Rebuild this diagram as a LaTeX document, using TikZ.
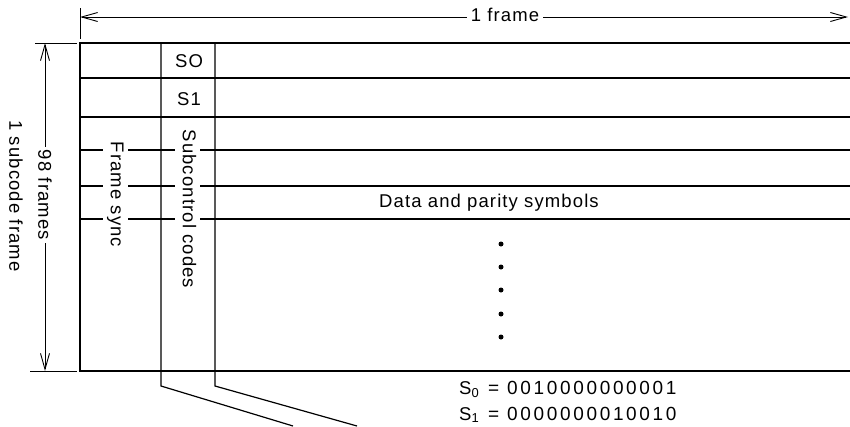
\documentclass[tikz,border=0pt]{standalone}
\usepackage{fontspec}
\setmainfont{Liberation Sans}[LetterSpace=6]
\newfontfamily\codefont{Liberation Sans}[LetterSpace=14]
\usetikzlibrary{arrows.meta}

\begin{document}
\begin{tikzpicture}[
            x=1pt, y=-1pt,
            rim/.style={line width=1.8pt},
            rule/.style={line width=1.2pt},
            dim/.style={line width=0.9pt},
            dimarrow/.style={dim, {Straight Barb[length=16pt,width=9pt]}-{Straight Barb[length=16pt,width=9pt]}},
            lbl/.style={font=\fontsize{18.5}{22}\selectfont, inner sep=0pt},
            cut/.style={lbl, fill=white, inner sep=4pt},
            vlbl/.style={cut, rotate=-90, text height=13.5pt, text depth=4pt, inner sep=3.5pt},
            dot/.style={circle, fill, inner sep=0pt, minimum size=5pt},
        ]
            \useasboundingbox (0,0) rectangle (850,426);

            % Outer frame, open on the right
            \coordinate (tl) at (80,43);
            \coordinate (tr) at (850,43);
            \coordinate (bl) at (80,371);
            \coordinate (br) at (850,371);
            \draw[rim] (tr) -- (tl) -- (bl) -- (br);

            % Rows
            \draw[rule] (80,78)  -- (850,78);
            \draw[rule] (80,117) -- (850,117);
            \draw[rule] (80,150) -- (850,150);
            \draw[rule] (80,186) -- (850,186);
            \draw[rule] (80,219) -- (850,219);

            % Subcode column, led out below the frame
            \draw[rule] (161,43) -- (161,386) -- (293,426);
            \draw[rule] (215,43) -- (215,386) -- (357,426);

            % Dimension lines
            \coordinate (fl) at (80,17);
            \coordinate (fr) at (848,17);
            \coordinate (vt) at (45,43);
            \coordinate (vb) at (45,371);
            \draw[dim] (80,8) -- (80,39);
            \draw[dim] (35,43) -- (77,43);
            \draw[dim] (30,371) -- (77,371);
            \draw[dimarrow] (fl) -- (fr);
            \draw[dimarrow] (vt) -- (vb);
            \node[cut, anchor=base] (oneframe) at (505,21) {1 frame};
            \node[cut, rotate=-90, inner sep=3pt] (ninetyeight) at (45,195) {98 frames};
            \node[lbl, rotate=-90] (subframe) at (16,196) {1 subcode frame};

            % Column texts
            \node[lbl, anchor=base] (szerobox) at (189,67) {SO};
            \node[lbl, anchor=base] (sonebox) at (189,105) {S1};
            \node[vlbl] (sync) at (115.5,194.5) {Frame sync};
            \node[vlbl] (subctl) at (187.5,209) {Subcontrol codes};
            \node[lbl, anchor=base] (data) at (489,207) {Data and parity symbols};

            % Continuation dots
            \node[dot] (dota) at (501,244) {};
            \node[dot] (dotb) at (501,267) {};
            \node[dot] (dotc) at (501,290) {};
            \node[dot] (dotd) at (501,314) {};
            \node[dot] (dote) at (501,337) {};

            % Subcode patterns
            \node[lbl, anchor=base west] (szero) at (459,394) {S\textsubscript{0}};
            \node[lbl, anchor=base west, font=\fontsize{19}{22}\codefont] (szeroval) at (488,394) {= 0010000000001};
            \node[lbl, anchor=base west] (sone) at (459,420) {S\textsubscript{1}};
            \node[lbl, anchor=base west, font=\fontsize{19}{22}\codefont] (soneval) at (488,420) {= 0000000010010};
        \end{tikzpicture}
\end{document}
